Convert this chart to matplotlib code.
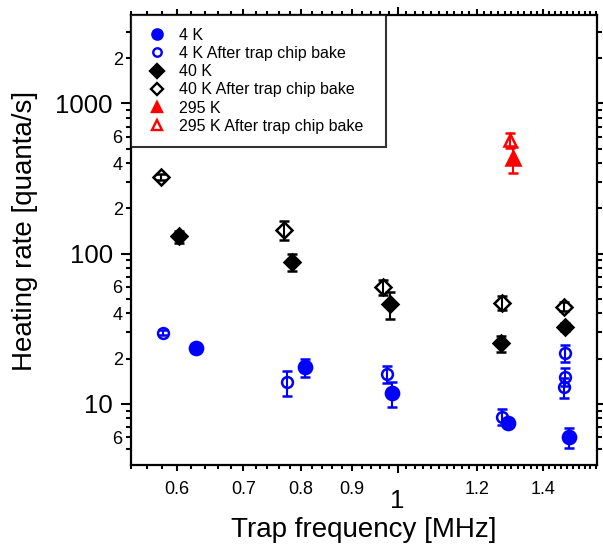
import numpy as np
import matplotlib
matplotlib.use('Agg')
import matplotlib.pyplot as plt
from matplotlib.ticker import FixedLocator, FuncFormatter
from matplotlib.lines import Line2D

plt.rcParams['font.family'] = ['Liberation Sans', 'DejaVu Sans']

# ---- data ----
freq_4K = [0.628, 0.808, 0.988, 1.290, 1.486]
rate_4K = [23.5, 17.5, 11.8, 7.5, 6.0]
err_4K = [0.8, 2.4, 2.2, 0.3, 0.9]

freq_4K_bake = [0.581, 0.774, 0.976, 1.272, 1.472, 1.472, 1.470]
rate_4K_bake = [29.8, 13.9, 15.8, 8.2, 21.7, 15.2, 12.9]
err_4K_bake = [1.0, 2.6, 2.1, 1.0, 2.8, 2.0, 2.0]

freq_40K = [0.603, 0.783, 0.983, 1.270, 1.472]
rate_40K = [130, 88, 46, 25.3, 32.4]
err_40K = [12, 11, 9.5, 3, 2]

freq_40K_bake = [0.579, 0.769, 0.966, 1.273, 1.469]
rate_40K_bake = [325, 144, 60, 47, 44.4]
err_40K_bake = [15, 20, 7, 5, 3]

freq_295K = [1.305]
rate_295K = [431]
err_295K = [85]

freq_295K_bake = [1.296]
rate_295K_bake = [571]
err_295K_bake = [67]

labels = ['4 K', '4 K After trap chip bake', '40 K', '40 K After trap chip bake',
          '295 K', '295 K After trap chip bake']

x_major_labels = ['1']
x_labeled_minor = [0.6, 0.7, 0.8, 0.9, 1.2, 1.4]
y_major = [10, 100, 1000]
y_labeled_minor = [6, 20, 40, 60, 200, 400, 600, 2000]

# ---- figure ----
fig = plt.figure(figsize=(6.03, 5.45), dpi=100)
ax = fig.add_axes([131/603, 1-465/545, 466/603, 450/545])

blue = '#0000ff'
red = '#ff0000'
black = '#000000'

styles = [
    (freq_4K, rate_4K, err_4K, 'o', blue, True, 9.5),
    (freq_4K_bake, rate_4K_bake, err_4K_bake, 'o', blue, False, 7.8),
    (freq_40K, rate_40K, err_40K, 'D', black, True, 8.6),
    (freq_40K_bake, rate_40K_bake, err_40K_bake, 'D', black, False, 8.0),
    (freq_295K, rate_295K, err_295K, '^', red, True, 9.5),
    (freq_295K_bake, rate_295K_bake, err_295K_bake, '^', red, False, 8.5),
]

handles = []
for (x, y, e, m, c, filled, ms), lab in zip(styles, labels):
    ax.errorbar(x, y, yerr=e, fmt=m, color=c, mfc=c if filled else 'none', mec=c,
                ms=ms, mew=1.8, elinewidth=1.5, capsize=3.6, capthick=1.5, zorder=3)
    handles.append(Line2D([], [], ls='none', marker=m, color=c,
                          mfc=c if filled else 'none', mec=c, ms=ms*0.78, mew=1.7))

ax.set_xscale('log')
ax.set_yscale('log')
ax.set_xlim(0.540, 1.585)
ax.set_ylim(3.92, 3870)

# x ticks
ax.xaxis.set_major_locator(FixedLocator([1.0]))
ax.xaxis.set_major_formatter(FuncFormatter(lambda v, p: x_major_labels[0]))
x_minor = [round(v, 2) for v in np.arange(0.54, 1.585, 0.02) if abs(v - 1.0) > 1e-6]
ax.xaxis.set_minor_locator(FixedLocator(x_minor))
ax.xaxis.set_minor_formatter(FuncFormatter(
    lambda v, p: ('%g' % round(v, 2)) if any(abs(v - t) < 1e-6 for t in x_labeled_minor) else ''))

# y ticks
ax.yaxis.set_major_locator(FixedLocator(y_major))
ax.yaxis.set_major_formatter(FuncFormatter(lambda v, p: '%d' % round(v)))
y_minor = [m * d for d in (1, 10, 100, 1000) for m in range(2, 10)]
y_minor = [v for v in y_minor if 4.5 < v < 3870]
ax.yaxis.set_minor_locator(FixedLocator(y_minor))
ax.yaxis.set_minor_formatter(FuncFormatter(
    lambda v, p: ('%d' % int(round(v / 10 ** np.floor(np.log10(v) + 1e-9))))
    if any(abs(v - t) < 1e-6 for t in y_labeled_minor) else ''))

ax.tick_params(which='both', direction='out', top=True, right=True, width=1.5, color='black')
ax.xaxis.set_tick_params(which='major', length=6, labelsize=18.5, pad=11)
ax.xaxis.set_tick_params(which='minor', length=3.0, labelsize=13, pad=8.4)
ax.yaxis.set_tick_params(which='major', length=7, labelsize=18.5, pad=6)
ax.yaxis.set_tick_params(which='minor', length=3.6, labelsize=13, pad=2.4)

for s in ax.spines.values():
    s.set_linewidth(1.6)

ax.set_xlabel('Trap frequency [MHz]', fontsize=20)
ax.set_ylabel('Heating rate [quanta/s]', fontsize=20)
ax.xaxis.label.set_va('center')
ax.xaxis.set_label_coords(0.5, (465 - 530) / 450)
ax.yaxis.label.set_va('center')
ax.yaxis.set_label_coords((25 - 131) / 466, (465 - 231) / 450)

leg = ax.legend(handles, labels, loc='upper left',
                bbox_to_anchor=(0, 0, (386 - 131) / 466, 1), mode='expand', borderaxespad=0,
                fontsize=11.5, frameon=True, fancybox=False, edgecolor='black',
                borderpad=0.8, handlelength=1.7, handletextpad=0.5, labelspacing=0.2)
leg.get_frame().set_linewidth(1.5)
leg.set_zorder(5)

fig.canvas.draw()
for t in ax.xaxis.get_minor_ticks():
    v = t.get_loc()
    if any(abs(v - s) < 1e-6 for s in x_labeled_minor):
        t.tick1line.set_markersize(4.6)
        t.tick2line.set_markersize(4.6)

fig.savefig('out.png', dpi=100)
